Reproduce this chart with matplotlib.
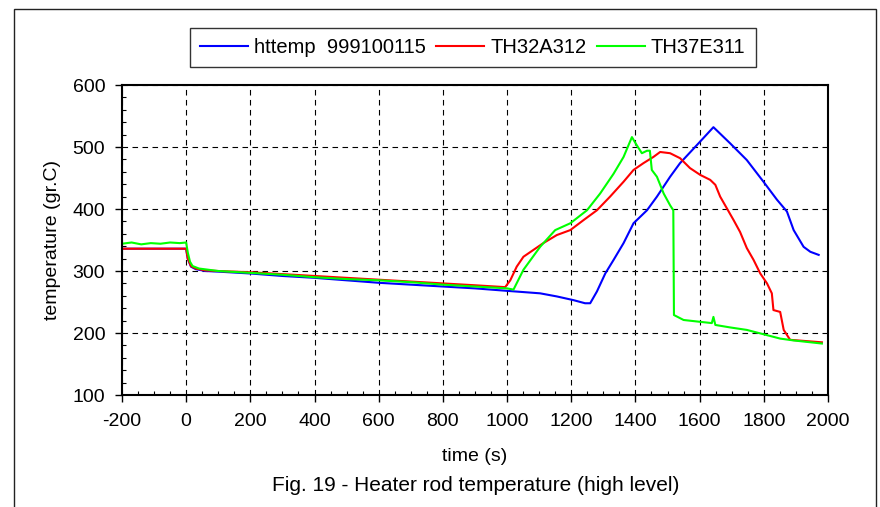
import matplotlib
matplotlib.use('Agg')
import matplotlib.pyplot as plt
from matplotlib.patches import Rectangle
from matplotlib.ticker import MultipleLocator

plt.rcParams['font.family'] = ['Liberation Sans', 'DejaVu Sans']
plt.rcParams['axes.unicode_minus'] = False

# httemp 999100115 (blue)
t_blue = [-200, 0, 5, 15, 30, 60, 100, 200, 300, 400, 500, 600, 700, 800, 900, 1000,
          1103, 1155, 1207, 1243, 1259, 1280, 1306, 1332, 1363, 1394, 1436, 1467, 1508,
          1539, 1602, 1643, 1695, 1747, 1799, 1841, 1872, 1893, 1924, 1945, 1971]
T_blue = [336, 336, 320, 307, 303, 300, 299, 296, 292, 289, 285, 281, 278, 275, 272, 268,
          264, 259, 253, 248, 248, 267, 296, 318, 345, 377, 398, 420, 452,
          474, 509, 532, 506, 479, 444, 415, 396, 366, 339, 331, 326]

# TH32A312 (red)
t_red = [-200, 0, 5, 15, 30, 60, 100, 200, 300, 400, 500, 600, 700, 800, 900, 994,
         1010, 1030, 1051, 1082, 1113, 1155, 1197, 1238, 1280, 1321, 1363, 1394, 1425,
         1456, 1477, 1508, 1539, 1570, 1602, 1633, 1649, 1664, 1685, 1706, 1726, 1747,
         1768, 1789, 1810, 1825, 1830, 1851, 1862, 1882, 1981]
T_red = [336, 336, 320, 308, 304, 301, 300, 298, 295, 292, 289, 286, 283, 280, 277, 274,
         285, 307, 323, 334, 345, 358, 366, 382, 398, 420, 444, 463, 474,
         484, 492, 490, 482, 466, 455, 447, 439, 420, 401, 382, 363, 337,
         318, 296, 280, 264, 237, 234, 205, 189, 185]

# TH37E311 (green)
t_green = [-200, -170, -140, -110, -80, -50, -20, 0, 5, 12, 20, 40, 70, 100, 200, 300,
           400, 500, 600, 700, 800, 900, 1000, 1020, 1051, 1103, 1150, 1197, 1249, 1290,
           1332, 1363, 1389, 1404, 1420, 1436, 1445, 1451, 1467, 1488, 1508, 1518, 1520,
           1550, 1602, 1638, 1643, 1649, 1695, 1747, 1799, 1851, 1893, 1981]
T_green = [344, 346, 343, 345, 344, 346, 345, 346, 330, 315, 308, 304, 302, 300, 297, 294,
           290, 287, 285, 282, 278, 275, 272, 270, 302, 339, 366, 377, 398, 425,
           457, 484, 516, 503, 490, 494, 494, 463, 452, 425, 406, 398, 229,
           221, 218, 216, 226, 213, 209, 205, 198, 191, 188, 183]

fig = plt.figure(figsize=(8.8, 5.07), dpi=100)
ax = fig.add_axes([0.1386, 0.2209, 0.8023, 0.6114])

ax.plot(t_blue, T_blue, color='#0000FF', linewidth=1.5, label='httemp  999100115')
ax.plot(t_red, T_red, color='#FF0000', linewidth=1.5, label='TH32A312')
ax.plot(t_green, T_green, color='#00FF00', linewidth=1.5, label='TH37E311')

ax.set_xlim(-200, 2000)
ax.set_ylim(100, 600)
ax.xaxis.set_major_locator(MultipleLocator(200))
ax.xaxis.set_minor_locator(MultipleLocator(50))
ax.yaxis.set_major_locator(MultipleLocator(100))
ax.yaxis.set_minor_locator(MultipleLocator(20))
ax.tick_params(which='major', direction='out', length=5, width=1, labelsize=14)
ax.tick_params(axis='x', which='major', pad=8)
ax.tick_params(axis='y', which='major', pad=7)
ax.tick_params(which='minor', direction='in', length=3, width=0.8)
ax.grid(True, which='major', color='k', linestyle=(0, (5, 4)), linewidth=0.8)
ax.set_axisbelow(True)
for s in ax.spines.values():
    s.set_linewidth(1.5)

ax.set_xlabel('time (s)', fontsize=14, labelpad=13)
ax.set_ylabel('temperature (gr.C)', fontsize=14, labelpad=8)

fig.legend(loc='center', bbox_to_anchor=(0.537, 0.906), ncol=3, fontsize=14.5,
           frameon=True, fancybox=False, edgecolor='#333333', framealpha=1,
           handlelength=2.4, handletextpad=0.3, columnspacing=0.5,
           borderpad=0.5)

fig.text(0.54, 0.043, 'Fig. 19 - Heater rod temperature (high level)',
         fontsize=15, ha='center', va='center')

fig.patches.append(Rectangle((14 / 880, -0.01), 862 / 880, 1.01 - 9 / 507,
                             transform=fig.transFigure, fill=False,
                             edgecolor='#222222', linewidth=1))

fig.savefig('out.png', dpi=100)
